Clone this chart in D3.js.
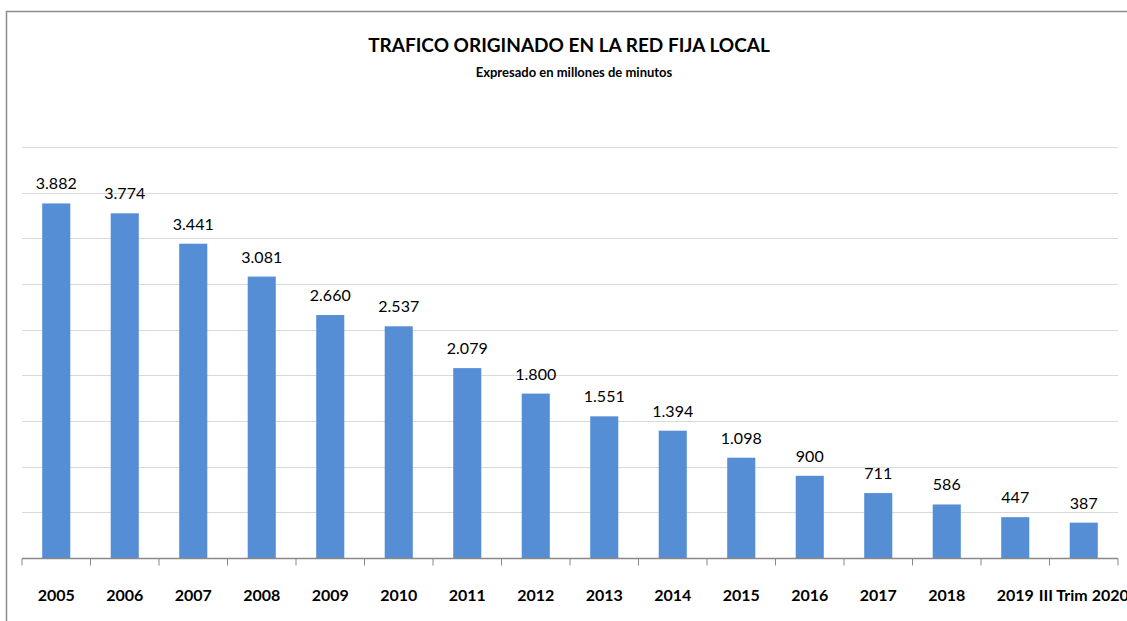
<!DOCTYPE html>
<html>
<meta charset="utf-8"/>
<head>
  <title>Trafico originado en la red fija local</title>
  <style>
    body { margin: 0; background: #fff; }
    text { font-family: Lato, "Open Sans", sans-serif; fill: #000; }
    .grid line { stroke: #d9d9d9; stroke-width: 1px; }
    .xaxis line { stroke: #898989; }
    .xaxis text { font-weight: bold; font-size: 16px; }
    .val { font-size: 16px; }
  </style>
</head>
<body>
  <svg width="1127" height="621"></svg>
  <script src="https://d3js.org/d3.v7.min.js"></script>
  <script>
// data
var years = ["2005", "2006", "2007", "2008", "2009", "2010", "2011", "2012",
             "2013", "2014", "2015", "2016", "2017", "2018", "2019", "III Trim 2020"];
var traffic = [3882, 3774, 3441, 3081, 2660, 2537, 2079, 1800,
               1551, 1394, 1098, 900, 711, 586, 447, 387];
var gridTicks = [0, 500, 1000, 1500, 2000, 2500, 3000, 3500, 4000, 4500];

var svg = d3.select("svg");

// outer frame of the slide box
svg.append("rect")
    .attr("x", 6.5).attr("y", 11.5)
    .attr("width", 1140).attr("height", 640)
    .attr("fill", "none")
    .attr("stroke", "#8c8c8c")
    .attr("stroke-width", 1.5);

var plotLeft = 22, plotRight = 1118, plotTop = 147, plotBottom = 558;

var x = d3.scaleBand()
    .domain(years)
    .range([plotLeft, plotRight])
    .paddingInner(0.59)
    .paddingOuter(0.295);

var y = d3.scaleLinear()
    .domain([0, 4500])
    .range([plotBottom, plotTop]);

// horizontal gridlines
svg.append("g")
    .attr("class", "grid")
  .selectAll("line")
  .data(gridTicks.slice(1))
  .enter().append("line")
    .attr("x1", plotLeft)
    .attr("x2", plotRight)
    .attr("y1", d => Math.round(y(d)) + 0.5)
    .attr("y2", d => Math.round(y(d)) + 0.5);

// bars
svg.append("g")
  .selectAll("rect")
  .data(traffic)
  .enter().append("rect")
    .attr("x", (d, i) => x(years[i]))
    .attr("width", x.bandwidth())
    .attr("y", d => y(d))
    .attr("height", d => y(0) - y(d))
    .attr("fill", "#558ed5");

// value labels, dot as thousands separator
var fmt = d3.formatLocale({decimal: ",", thousands: ".", grouping: [3], currency: ["", ""]}).format(",");
svg.append("g")
  .selectAll("text")
  .data(traffic)
  .enter().append("text")
    .attr("class", "val")
    .attr("x", (d, i) => x(years[i]) + x.bandwidth() / 2)
    .attr("y", d => y(d) - 14)
    .attr("text-anchor", "middle")
    .text(d => fmt(d));

// x axis, ticks between the categories
var xAxis = svg.append("g")
    .attr("class", "xaxis")
    .attr("transform", "translate(0," + (plotBottom + 0.5) + ")");

xAxis.append("line")
    .attr("x1", plotLeft).attr("x2", plotRight)
    .attr("stroke-width", 1.5);

var step = x.step();
xAxis.selectAll("line.tk")
  .data(d3.range(years.length + 1))
  .enter().append("line")
    .attr("class", "tk")
    .attr("x1", i => plotLeft + i * step)
    .attr("x2", i => plotLeft + i * step)
    .attr("y1", 0).attr("y2", 7);

xAxis.selectAll("text")
  .data(years)
  .enter().append("text")
    .attr("x", d => x(d) + x.bandwidth() / 2)
    .attr("y", 42)
    .attr("text-anchor", "middle")
    .text(d => d);

// titles
svg.append("text")
    .attr("x", 569).attr("y", 52)
    .attr("text-anchor", "middle")
    .style("font-weight", "bold")
    .style("font-size", "19px")
    .text("TRAFICO ORIGINADO EN LA RED FIJA LOCAL");

svg.append("text")
    .attr("x", 574).attr("y", 77)
    .attr("text-anchor", "middle")
    .style("font-weight", "bold")
    .style("font-size", "13px")
    .text("Expresado en millones de minutos");
  </script>
</body>
</html>
